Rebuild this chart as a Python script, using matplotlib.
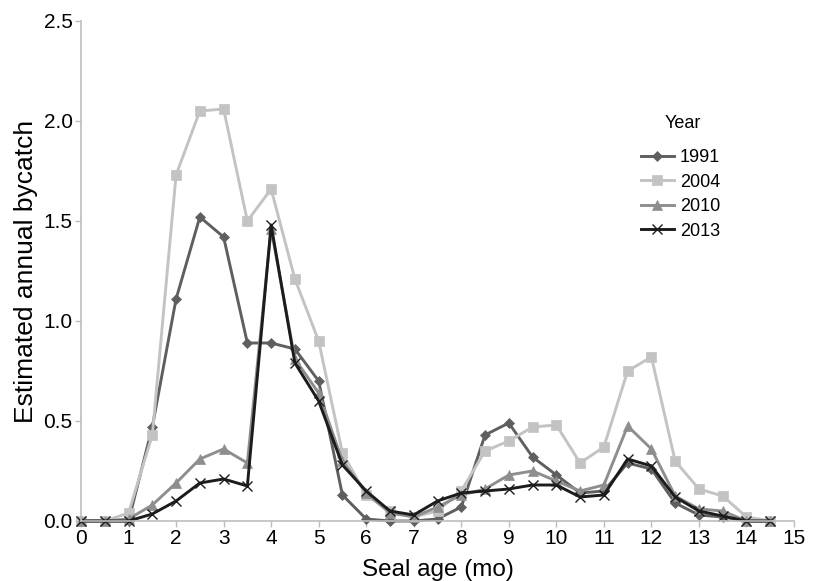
import matplotlib
matplotlib.use("Agg")
import matplotlib.pyplot as plt
import numpy as np

plt.rcParams["font.family"] = ["Liberation Sans", "DejaVu Sans"]

# seal age in months, half-month steps
age = np.arange(0, 15, 0.5)

bycatch_1991 = [0, 0, 0, 0.47, 1.11, 1.52, 1.42, 0.89, 0.89, 0.86, 0.70, 0.13, 0.01, 0.0,
                0.0, 0.01, 0.07, 0.43, 0.49, 0.32, 0.23, 0.14, 0.15, 0.29, 0.26, 0.09,
                0.03, 0.02, 0.0, 0.0]
bycatch_2004 = [0, 0, 0.04, 0.43, 1.73, 2.05, 2.06, 1.50, 1.66, 1.21, 0.90, 0.34, 0.13, 0.05,
                0.02, 0.05, 0.15, 0.35, 0.40, 0.47, 0.48, 0.29, 0.37, 0.75, 0.82, 0.30,
                0.16, 0.125, 0.02, 0.0]
bycatch_2010 = [0, 0, 0.01, 0.08, 0.19, 0.31, 0.36, 0.29, 1.46, 0.81, 0.64, 0.30, 0.14, 0.04,
                0.02, 0.07, 0.13, 0.16, 0.23, 0.25, 0.20, 0.15, 0.18, 0.475, 0.36, 0.125,
                0.06, 0.05, 0.0, 0.0]
bycatch_2013 = [0, 0, 0, 0.035, 0.10, 0.19, 0.21, 0.175, 1.48, 0.79, 0.60, 0.28, 0.15, 0.05,
                0.03, 0.10, 0.14, 0.15, 0.16, 0.18, 0.18, 0.12, 0.13, 0.31, 0.275, 0.12,
                0.05, 0.025, 0.0, 0.0]

series = [
    ("1991", bycatch_1991, "#5f5f5f", "D", 5),
    ("2004", bycatch_2004, "#c3c3c3", "s", 7),
    ("2010", bycatch_2010, "#8e8e8e", "^", 7),
    ("2013", bycatch_2013, "#1c1c1c", "x", 7),
]

W, H = 813, 581
fig = plt.figure(figsize=(W / 100, H / 100), dpi=100)
ax = fig.add_axes([81 / W, 1 - 521 / H, (794 - 81) / W, 500 / H])

for name, vals, col, mk, ms in series:
    ax.plot(age, vals, color=col, lw=2.1, marker=mk, ms=ms, mew=1.0 if mk == "x" else 0.5,
            mec=col, mfc=col, label=name, clip_on=False)

ax.set_xlim(0, 15)
ax.set_ylim(0, 2.5)
ax.set_xticks(range(0, 16))
yt = [0, 0.5, 1.0, 1.5, 2.0, 2.5]
ax.set_yticks(yt)
ax.set_yticklabels([f"{v:.1f}" for v in yt])
ax.tick_params(labelsize=15, color="#bdbdbd", length=4, width=1, pad=2)
for side in ("top", "right"):
    ax.spines[side].set_visible(False)
for side in ("left", "bottom"):
    ax.spines[side].set_color("#bdbdbd")
    ax.spines[side].set_linewidth(1.2)

ax.set_xlabel("Seal age (mo)", fontsize=17.5, labelpad=8)
ax.set_ylabel("Estimated annual bycatch", fontsize=19, labelpad=4)

# legend title drawn separately to get the wider gap above the entries
fig.text(683 / W, 1 - 123 / H, "Year", fontsize=13, ha="center", va="center")
ax.legend(frameon=False, fontsize=13, loc="upper left",
          bbox_to_anchor=(641 / W, 1 - 149 / H), bbox_transform=fig.transFigure,
          borderaxespad=0, borderpad=0, handlelength=1.8, handletextpad=0.35,
          labelspacing=0.42)

fig.savefig("out.png", dpi=100)
